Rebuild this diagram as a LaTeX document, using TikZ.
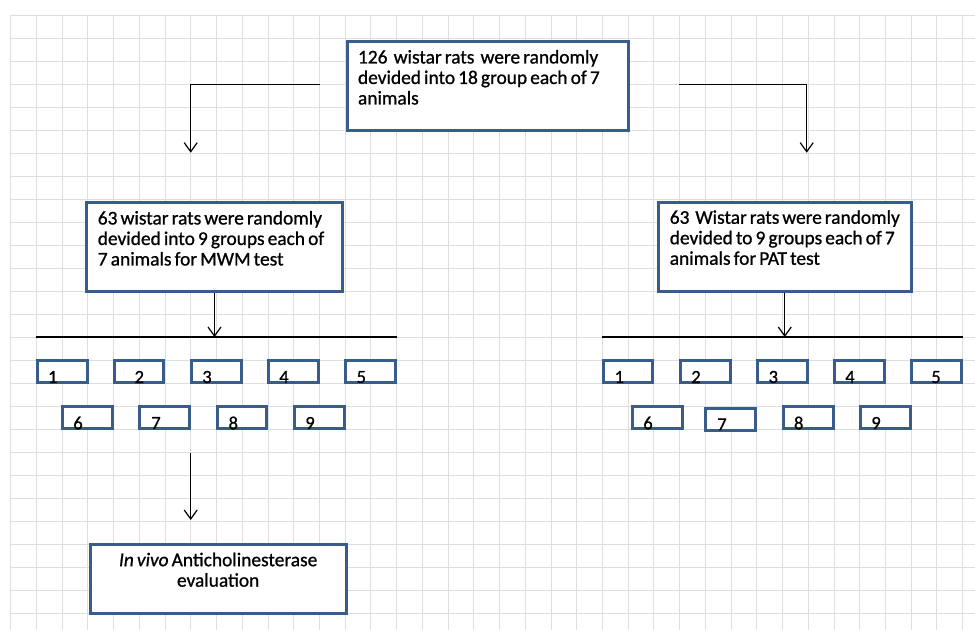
\documentclass[tikz,border=0pt]{standalone}
\usepackage{fontspec}
\setmainfont{Carlito}[FakeBold=0.9]
\usetikzlibrary{arrows.meta}
\definecolor{boxblue}{RGB}{56,93,138}
\definecolor{gridgray}{RGB}{222,222,222}
\newcommand{\boxfont}{\fontsize{19.4}{20.5}\selectfont\spaceskip=0.16em plus 0.05em minus 0.02em\relax}
\begin{document}
\begin{tikzpicture}[x=1pt,y=-1pt,
  bigbox/.style={draw=boxblue, line width=3pt, fill=white, anchor=north west,
    font=\boxfont},
  gbox/.style={draw=boxblue, line width=3pt, fill=white, minimum width=49.5pt,
    minimum height=22pt, inner sep=0pt},
  digit/.style={inner sep=0pt, font=\fontsize{18.5}{20}\selectfont},
  arr/.style={line width=1.2pt, -{Straight Barb[length=9pt,width=13pt,line width=1.2pt]}},
  plainline/.style={line width=1.2pt}]
\useasboundingbox[fill=white] (0,0) rectangle (975,630);
% grid
\foreach \i in {0,...,37}
  \draw[gridgray, line width=1pt] ({10.7+\i*25.73},15.3) -- ({10.7+\i*25.73},630);
\foreach \j in {0,...,26}
  \draw[gridgray, line width=1pt] (10.7,{15.3+\j*23}) -- (975,{15.3+\j*23});

% big boxes
\node[bigbox, inner xsep=11pt, inner ysep=9pt] (top) at (345.5,39.5)
  {\parbox[t][71pt][t]{259pt}{\raggedright 126\ \ wistar rats\ \ were randomly\\devided into 18 group each of 7\\animals}};
\node[bigbox, inner xsep=11.5pt, inner ysep=9pt] (ML) at (84.8,200.5)
  {\parbox[t][71.7pt][t]{233.4pt}{\raggedright 63 wistar rats were randomly\\devided into 9 groups each of\\7 animals for MWM test}};
\node[bigbox, inner xsep=11.8pt, inner ysep=8pt] (MR) at (656.5,200.8)
  {\parbox[t][72.7pt][t]{230pt}{\raggedright 63\ \ Wistar rats were randomly\\devided to 9 groups each of 7\\animals for PAT test}};
\node[bigbox, inner xsep=11pt, inner ysep=8pt] (ev) at (88.8,543.2)
  {\parbox[t][52.6pt][t]{233.7pt}{\centering \textit{In vivo} Anticholinesterase\\evaluation}};

% small boxes left
\node[gbox] (L1) at (62.3,371.5) {};
\node[gbox] (L2) at (139,371.5) {};
\node[gbox] (L3) at (216.3,371.5) {};
\node[gbox] (L4) at (293.3,371.5) {};
\node[gbox] (L5) at (370.7,371.5) {};
\node[gbox] (L6) at (87.3,417.7) {};
\node[gbox] (L7) at (164.7,417.7) {};
\node[gbox] (L8) at (242,417.7) {};
\node[gbox] (L9) at (319.3,417.7) {};
% small boxes right
\node[gbox] (R1) at (628,371.5) {};
\node[gbox] (R2) at (705.3,371.5) {};
\node[gbox] (R3) at (782.3,371.5) {};
\node[gbox] (R4) at (859.7,371.5) {};
\node[gbox] (R5) at (936.7,371.5) {};
\node[gbox] (R6) at (657.7,417.7) {};
\node[gbox] (R7) at (730.7,419) {};
\node[gbox] (R8) at (808.3,417.7) {};
\node[gbox] (R9) at (885.3,417.7) {};

% digits
\node[digit] (dL1) at (52.7,377) {1};
\node[digit] (dL2) at (139.3,377) {2};
\node[digit] (dL3) at (207,377) {3};
\node[digit] (dL4) at (284,377) {4};
\node[digit] (dL5) at (361.3,377) {5};
\node[digit] (dL6) at (78,423) {6};
\node[digit] (dL7) at (156,423) {7};
\node[digit] (dL8) at (233.3,423) {8};
\node[digit] (dL9) at (310,423) {9};
\node[digit] (dR1) at (619.3,377) {1};
\node[digit] (dR2) at (696,377) {2};
\node[digit] (dR3) at (773.3,377) {3};
\node[digit] (dR4) at (850,377) {4};
\node[digit] (dR5) at (936,377) {5};
\node[digit] (dR6) at (648,423) {6};
\node[digit] (dR7) at (722,424.3) {7};
\node[digit] (dR8) at (798.7,423) {8};
\node[digit] (dR9) at (876,423) {9};

% connectors
\coordinate (tlA) at (319.5,84.7);
\coordinate (tlB) at (190.7,152.7);
\draw[arr] (tlA) -| (tlB);
\coordinate (trA) at (679.3,84.7);
\coordinate (trB) at (806.7,152.7);
\draw[arr] (trA) -| (trB);
\coordinate (hLa) at (36,337);
\coordinate (hLb) at (396.7,337);
\draw[plainline] (hLa) -- (hLb);
\coordinate (hRa) at (602,337);
\coordinate (hRb) at (962.7,337);
\draw[plainline] (hRa) -- (hRb);
\draw[arr] (ML.south) -- (ML.south |- hLa);
\draw[arr] (MR.south) -- (MR.south |- hRa);
\coordinate (bA) at (190.7,452.7);
\coordinate (bB) at (190.7,520);
\draw[arr] (bA) -- (bB);
\end{tikzpicture}
\end{document}
